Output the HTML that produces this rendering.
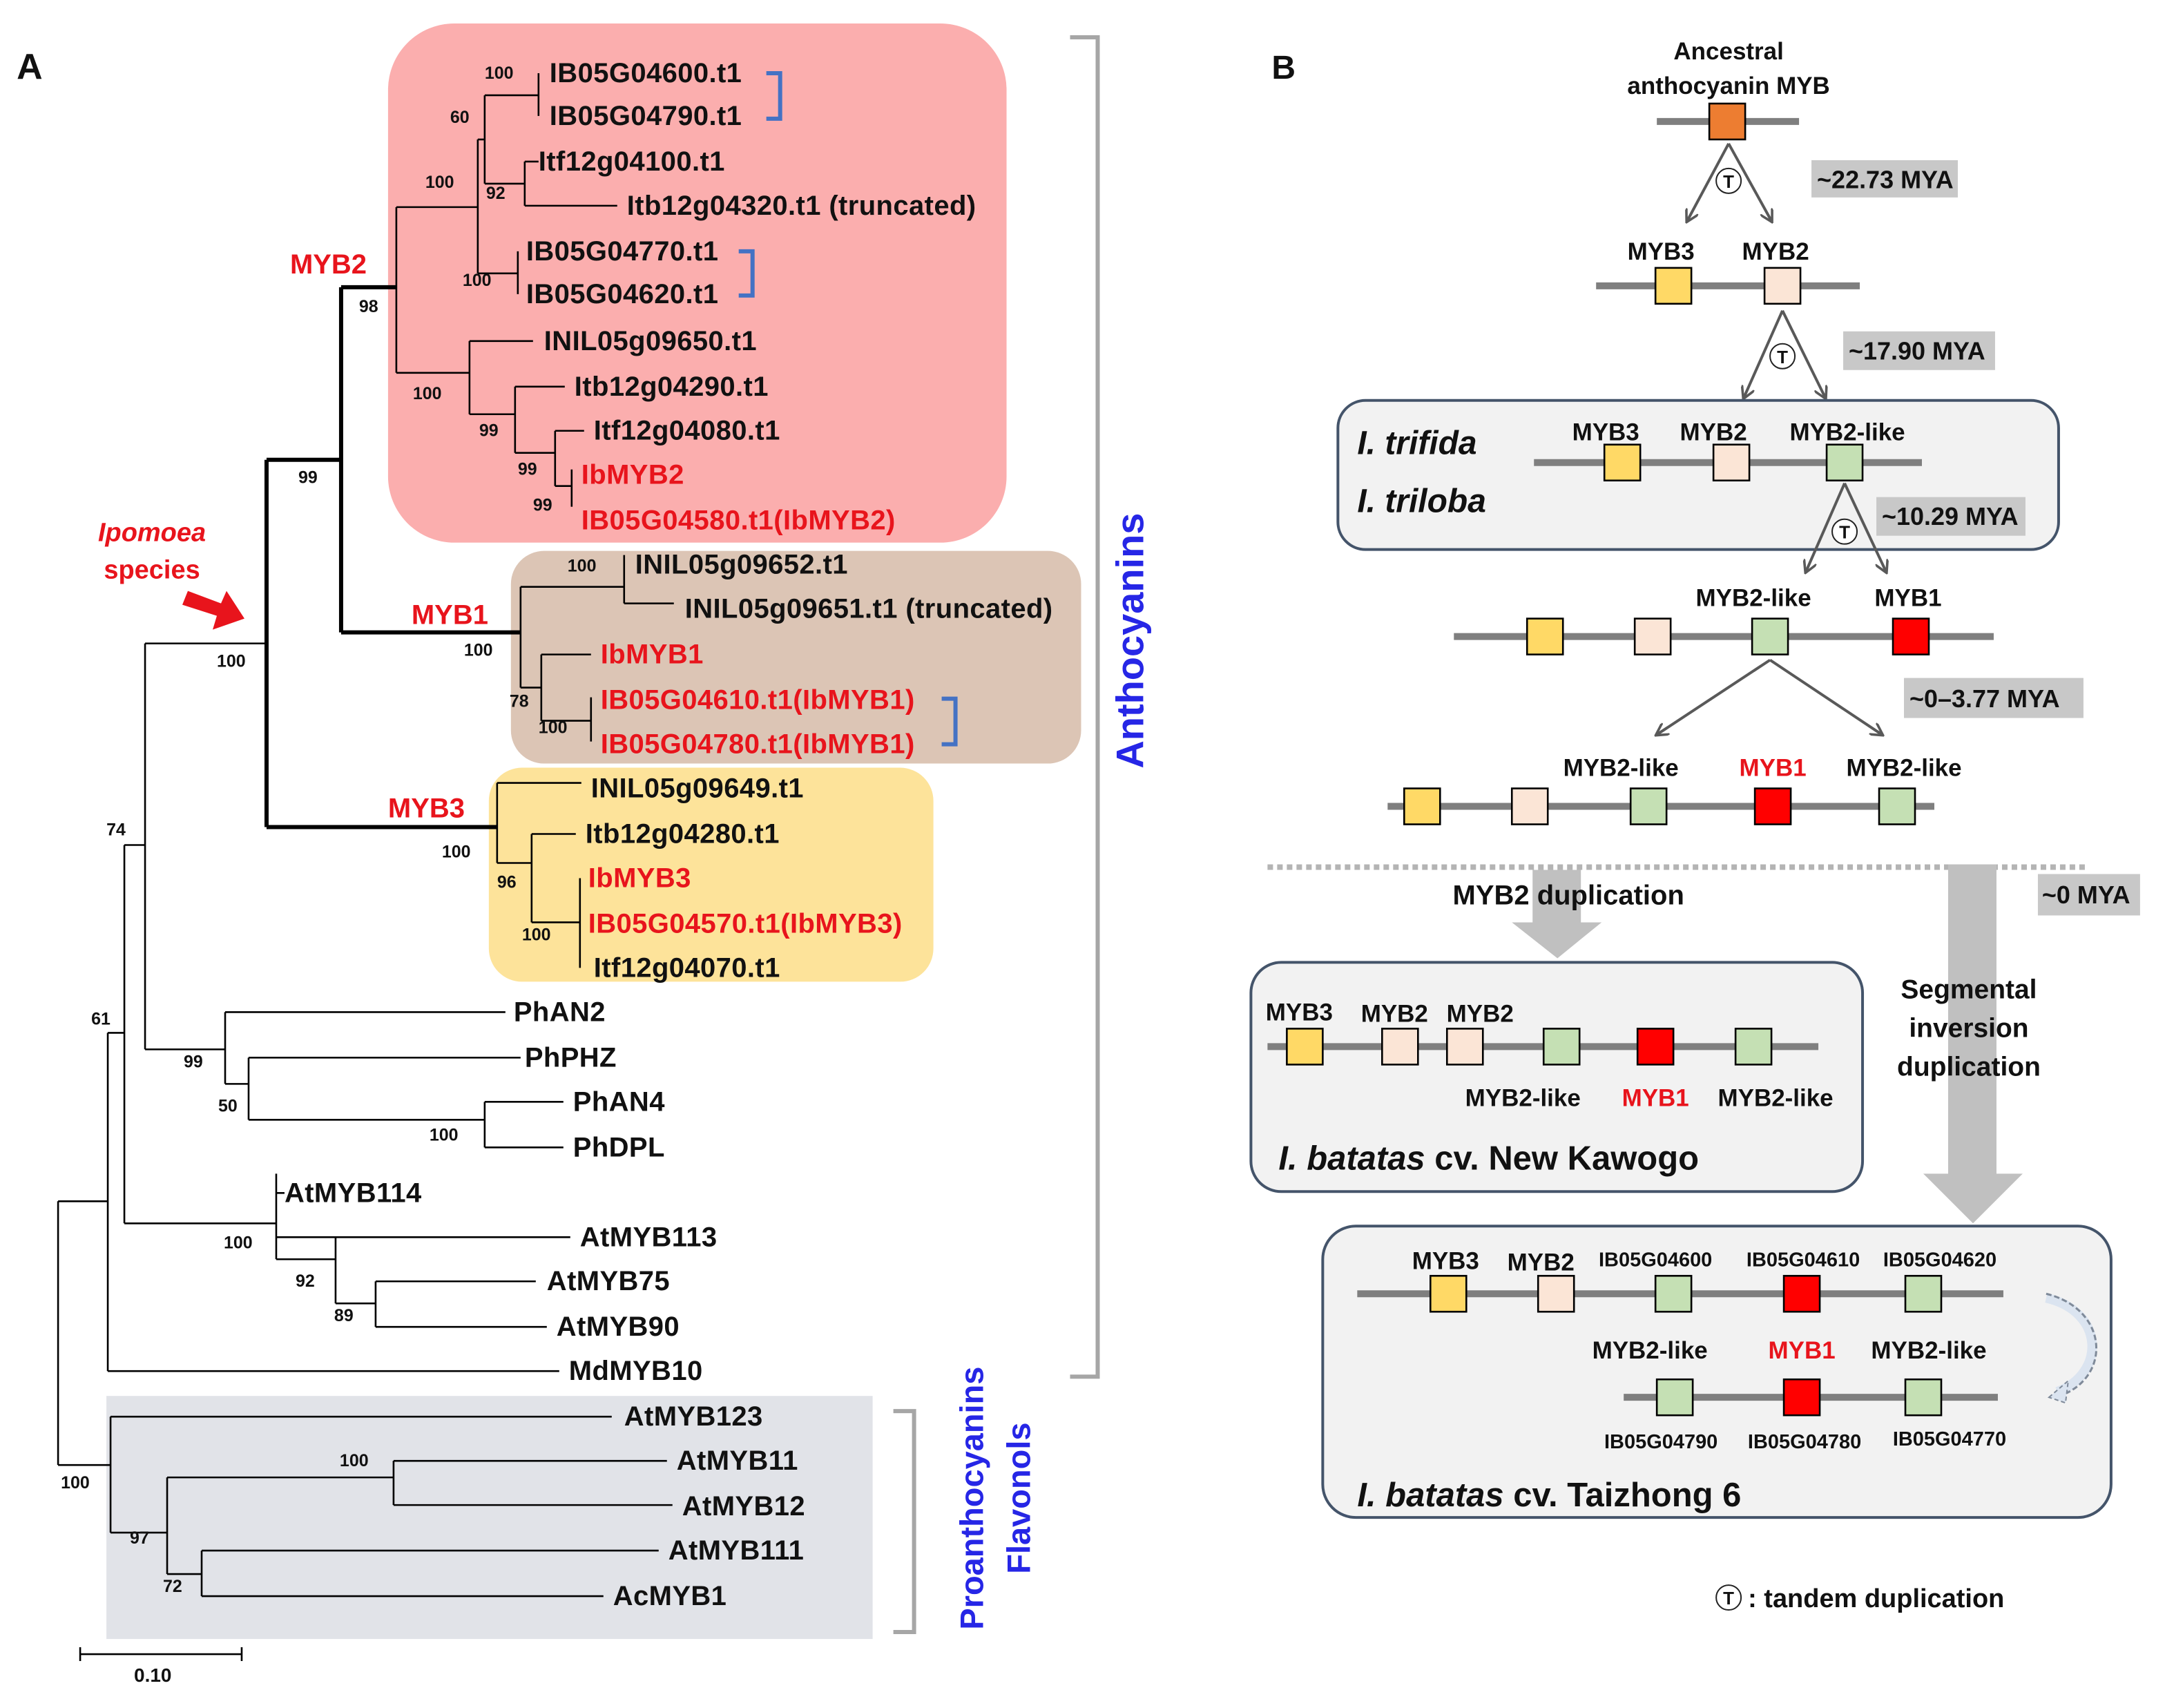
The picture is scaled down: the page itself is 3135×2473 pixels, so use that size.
<!DOCTYPE html>
<html><head><meta charset="utf-8"><style>
html,body{margin:0;padding:0;background:#fff;}
svg{display:block;}
text{font-family:"Liberation Sans",sans-serif;font-weight:bold;}
.lf{font-size:20px;fill:#111;dominant-baseline:central;letter-spacing:0.2px;}
.r{fill:#e8141c;}
.bs{font-size:12.5px;fill:#111;font-weight:bold;}
.tr path,.tr line{stroke:#000;stroke-width:1.3;fill:none;}
.tk{stroke:#000;stroke-width:3;fill:none;}
.gl{font-size:17.5px;fill:#111;text-anchor:middle;}
.sm{font-size:14.5px;fill:#111;text-anchor:middle;}
.chr{stroke:#7f7f7f;stroke-width:5;}
.bx{stroke:#000;stroke-width:1.3;}
.ar{stroke:#595959;stroke-width:2;fill:none;}
.mya{font-size:18px;fill:#111;dominant-baseline:central;}
</style></head><body>
<svg width="3135" height="2473" viewBox="0 0 1568 1237" xmlns="http://www.w3.org/2000/svg">
<defs>
<marker id="ah" markerWidth="10" markerHeight="10" refX="8" refY="5" orient="auto" markerUnits="userSpaceOnUse"><path d="M0,0 L9,5 L0,10" fill="none" stroke="#595959" stroke-width="1.8"/></marker>
</defs>
<text x="12" y="57" font-size="26" fill="#111">A</text>
<rect x="281" y="17" width="448" height="376" rx="48" fill="#fbaeae"/>
<rect x="370" y="399" width="413" height="154" rx="24" fill="#dcc5b5"/>
<rect x="354" y="556" width="322" height="155" rx="24" fill="#fde39a"/>
<rect x="77" y="1011" width="555" height="176" fill="#e1e3e8"/>

<g class="tr">
<path d="M390,53V84 M351,69H390"/>
<path d="M380,117V149 M380,117H390 M380,149H447 M351,133H380"/>
<path d="M351,69V133 M346,101H351"/>
<path d="M375,182V213 M346,198H375"/>
<path d="M346,101V198 M287,150H346"/>
<path d="M340,247V300 M340,247H386 M340,300H373"/>
<path d="M373,280V328 M373,280H409 M373,328H402"/>
<path d="M402,312V352 M402,312H423 M402,352H414"/>
<path d="M414,340V367"/>
<path d="M287,150V270 M287,270H340"/>
<path d="M452,402V437 M452,437H488 M377,425H452"/>
<path d="M392,474V522 M392,474H428 M392,522H428"/>
<path d="M428,505V537"/>
<path d="M377,425V498 M377,498H392"/>
<path d="M360,567V625 M360,567H421"/>
<path d="M385,604V668 M385,604H417 M385,668H420 M420,636V701 M360,625H385"/>
<path d="M163,733V785 M163,733H366 M163,785H180"/>
<path d="M180,766V811 M180,766H377 M180,811H351"/>
<path d="M351,798V831 M351,798H408 M351,831H408"/>
<path d="M105,466V760 M105,760H163 M90,612H105"/>
<path d="M200,850V912 M200,864H206 M200,896H413 M200,912H243"/>
<path d="M243,896V944 M243,944H272 M272,928V961 M272,928H388 M272,961H396"/>
<path d="M90,612V886 M90,886H200 M78,748H90"/>
<path d="M78,748V993 M78,993H405 M42,870H78"/>
<path d="M42,870V1061 M42,1061H80"/>
<path d="M80,1026V1110 M80,1026H443 M80,1110H121"/>
<path d="M121,1070V1140 M121,1070H285 M285,1058V1090 M285,1058H483 M285,1090H487"/>
<path d="M121,1140H146 M146,1123V1156 M146,1123H477 M146,1156H437"/>
<path d="M105,466H193"/>
<path d="M58,1193V1203 M175,1193V1203 M58,1198H175"/>
</g>
<path class="tk" d="M193,333V599 M193,333H247 M247,208V458 M247,208H287 M247,458H377 M193,599H360"/>

<g class="lf">
<text x="398" y="53">IB05G04600.t1</text>
<text x="398" y="84">IB05G04790.t1</text>
<text x="390" y="117">Itf12g04100.t1</text>
<text x="454" y="149">Itb12g04320.t1 (truncated)</text>
<text x="381" y="182">IB05G04770.t1</text>
<text x="381" y="213">IB05G04620.t1</text>
<text x="394" y="247">INIL05g09650.t1</text>
<text x="416" y="280">Itb12g04290.t1</text>
<text x="430" y="312">Itf12g04080.t1</text>
<text x="421" y="344" class="lf r">IbMYB2</text>
<text x="421" y="377" class="lf r">IB05G04580.t1(IbMYB2)</text>
<text x="460" y="409">INIL05g09652.t1</text>
<text x="496" y="441">INIL05g09651.t1 (truncated)</text>
<text x="435" y="474" class="lf r">IbMYB1</text>
<text x="435" y="507" class="lf r">IB05G04610.t1(IbMYB1)</text>
<text x="435" y="539" class="lf r">IB05G04780.t1(IbMYB1)</text>
<text x="428" y="571">INIL05g09649.t1</text>
<text x="424" y="604">Itb12g04280.t1</text>
<text x="426" y="636" class="lf r">IbMYB3</text>
<text x="426" y="669" class="lf r">IB05G04570.t1(IbMYB3)</text>
<text x="430" y="701">Itf12g04070.t1</text>
<text x="372" y="733">PhAN2</text>
<text x="380" y="766">PhPHZ</text>
<text x="415" y="798">PhAN4</text>
<text x="415" y="831">PhDPL</text>
<text x="206" y="864">AtMYB114</text>
<text x="420" y="896">AtMYB113</text>
<text x="396" y="928">AtMYB75</text>
<text x="403" y="961">AtMYB90</text>
<text x="412" y="993">MdMYB10</text>
<text x="452" y="1026">AtMYB123</text>
<text x="490" y="1058">AtMYB11</text>
<text x="494" y="1091">AtMYB12</text>
<text x="484" y="1123">AtMYB111</text>
<text x="444" y="1156">AcMYB1</text>
</g>
<g class="bs">
<text x="351" y="57">100</text><text x="326" y="89">60</text><text x="308" y="136">100</text><text x="352" y="144">92</text>
<text x="335" y="207">100</text><text x="260" y="226">98</text><text x="299" y="289">100</text><text x="347" y="316">99</text>
<text x="375" y="344">99</text><text x="386" y="370">99</text><text x="216" y="350">99</text>
<text x="411" y="414">100</text><text x="336" y="475">100</text><text x="369" y="512">78</text><text x="390" y="531">100</text>
<text x="157" y="483">100</text><text x="320" y="621">100</text><text x="360" y="643">96</text><text x="378" y="681">100</text>
<text x="77" y="605">74</text><text x="66" y="742">61</text><text x="133" y="773">99</text><text x="158" y="805">50</text>
<text x="311" y="826">100</text><text x="162" y="904">100</text><text x="214" y="932">92</text><text x="242" y="957">89</text>
<text x="44" y="1078">100</text><text x="246" y="1062">100</text><text x="94" y="1118">97</text><text x="118" y="1153">72</text>
</g>
<text x="97" y="1218" font-size="14" fill="#111">0.10</text>
<text x="210" y="198" font-size="20" class="r">MYB2</text>
<text x="298" y="452" font-size="20" class="r">MYB1</text>
<text x="281" y="592" font-size="20" class="r">MYB3</text>
<text x="110" y="392" font-size="19" text-anchor="middle" font-style="italic" class="r">Ipomoea</text>
<text x="110" y="419" font-size="19" text-anchor="middle" class="r">species</text>
<path d="M136,428 L160,437 L164,428 L177,448 L154,456 L157,446 L132,438 Z" fill="#e8141c"/>
<path d="M555,53H565V86H555 M535,182H545V214H535 M682,506H692V539H682" stroke="#4472c4" stroke-width="3" fill="none"/>
<path d="M775,27H795V997H775 M647,1022H662V1182H647" stroke="#a6a6a6" stroke-width="3" fill="none"/>
<text transform="translate(828,464) rotate(-90)" font-size="28" fill="#2626e6" text-anchor="middle">Anthocyanins</text>
<text transform="translate(712,1085) rotate(-90)" font-size="23.5" fill="#2626e6" text-anchor="middle">Proanthocyanins</text>
<text transform="translate(746,1085) rotate(-90)" font-size="23.5" fill="#2626e6" text-anchor="middle">Flavonols</text>

<text x="921" y="57" font-size="24" fill="#111">B</text>
<text x="1252" y="43" class="gl">Ancestral</text>
<text x="1252" y="68" class="gl">anthocyanin MYB</text>
<line class="chr" x1="1200" y1="88" x2="1303" y2="88"/>
<rect class="bx" x="1238" y="75" width="26" height="26" fill="#ed7d31"/>
<line class="ar" x1="1252" y1="104" x2="1222" y2="160" marker-end="url(#ah)"/>
<line class="ar" x1="1252" y1="104" x2="1283" y2="160" marker-end="url(#ah)"/>
<circle cx="1252" cy="131" r="9" fill="#fff" stroke="#222" stroke-width="1"/><text x="1252" y="136" font-size="13" text-anchor="middle" font-weight="normal" fill="#111">T</text>
<rect x="1312" y="116" width="106" height="27" fill="#c8c8c8"/><text x="1316" y="130" class="mya">~22.73 MYA</text>

<text x="1203" y="188" class="gl">MYB3</text><text x="1286" y="188" class="gl">MYB2</text>
<line class="chr" x1="1156" y1="207" x2="1347" y2="207"/>
<rect class="bx" x="1199" y="194" width="26" height="26" fill="#ffd966"/>
<rect class="bx" x="1278" y="194" width="26" height="26" fill="#fbe5d6"/>
<line class="ar" x1="1291" y1="225" x2="1263" y2="288" marker-end="url(#ah)"/>
<line class="ar" x1="1291" y1="225" x2="1322" y2="288" marker-end="url(#ah)"/>
<circle cx="1291" cy="258" r="9" fill="#fff" stroke="#222" stroke-width="1"/><text x="1291" y="263" font-size="13" text-anchor="middle" font-weight="normal" fill="#111">T</text>
<rect x="1335" y="240" width="110" height="28" fill="#c8c8c8"/><text x="1339" y="254" class="mya">~17.90 MYA</text>

<rect x="969" y="290" width="522" height="108" rx="20" fill="#f2f2f2" stroke="#44546a" stroke-width="2"/>
<text x="983" y="329" font-size="24" font-style="italic" fill="#111">I. trifida</text>
<text x="983" y="371" font-size="24" font-style="italic" fill="#111">I. triloba</text>
<text x="1163" y="319" class="gl">MYB3</text><text x="1241" y="319" class="gl">MYB2</text><text x="1338" y="319" class="gl">MYB2-like</text>
<line class="chr" x1="1111" y1="335" x2="1392" y2="335"/>
<rect class="bx" x="1162" y="322" width="26" height="26" fill="#ffd966"/>
<rect class="bx" x="1241" y="322" width="26" height="26" fill="#fbe5d6"/>
<rect class="bx" x="1323" y="322" width="26" height="26" fill="#c5e0b4"/>
<line class="ar" x1="1336" y1="350" x2="1308" y2="414" marker-end="url(#ah)"/>
<line class="ar" x1="1336" y1="350" x2="1366" y2="414" marker-end="url(#ah)"/>
<circle cx="1336" cy="385" r="9" fill="#fff" stroke="#222" stroke-width="1"/><text x="1336" y="390" font-size="13" text-anchor="middle" font-weight="normal" fill="#111">T</text>
<rect x="1359" y="360" width="108" height="28" fill="#c8c8c8"/><text x="1363" y="374" class="mya">~10.29 MYA</text>

<text x="1270" y="439" class="gl">MYB2-like</text><text x="1382" y="439" class="gl">MYB1</text>
<line class="chr" x1="1053" y1="461" x2="1444" y2="461"/>
<rect class="bx" x="1106" y="448" width="26" height="26" fill="#ffd966"/>
<rect class="bx" x="1184" y="448" width="26" height="26" fill="#fbe5d6"/>
<rect class="bx" x="1269" y="448" width="26" height="26" fill="#c5e0b4"/>
<rect class="bx" x="1371" y="448" width="26" height="26" fill="#ff0000"/>
<line class="ar" x1="1282" y1="478" x2="1200" y2="532" marker-end="url(#ah)"/>
<line class="ar" x1="1282" y1="478" x2="1363" y2="532" marker-end="url(#ah)"/>
<rect x="1379" y="491" width="130" height="29" fill="#c8c8c8"/><text x="1383" y="506" class="mya">~0–3.77 MYA</text>

<text x="1174" y="562" class="gl">MYB2-like</text><text x="1284" y="562" class="gl" style="fill:#e8141c">MYB1</text><text x="1379" y="562" class="gl">MYB2-like</text>
<line class="chr" x1="1005" y1="584" x2="1401" y2="584"/>
<rect class="bx" x="1017" y="571" width="26" height="26" fill="#ffd966"/>
<rect class="bx" x="1095" y="571" width="26" height="26" fill="#fbe5d6"/>
<rect class="bx" x="1181" y="571" width="26" height="26" fill="#c5e0b4"/>
<rect class="bx" x="1271" y="571" width="26" height="26" fill="#ff0000"/>
<rect class="bx" x="1361" y="571" width="26" height="26" fill="#c5e0b4"/>

<line x1="918" y1="628" x2="1510" y2="628" stroke="#b4b4b4" stroke-width="4" stroke-dasharray="4,3"/>
<path d="M1110,630H1145V668H1160L1128,694L1095,668H1110Z" fill="#c0c0c0"/>
<path d="M1411,626H1446V850H1465L1429,886L1393,850H1411Z" fill="#c0c0c0"/>
<text x="1136" y="655" class="gl" style="font-size:20px">MYB2 duplication</text>
<rect x="1476" y="633" width="74" height="30" fill="#c8c8c8"/><text x="1479" y="648" class="mya">~0 MYA</text>
<text x="1426" y="723" class="gl" style="font-size:19.5px">Segmental</text>
<text x="1426" y="751" class="gl" style="font-size:19.5px">inversion</text>
<text x="1426" y="779" class="gl" style="font-size:19.5px">duplication</text>

<rect x="906" y="697" width="443" height="166" rx="22" fill="#f2f2f2" stroke="#44546a" stroke-width="2"/>
<text x="941" y="739" class="gl">MYB3</text><text x="1010" y="740" class="gl">MYB2</text><text x="1072" y="740" class="gl">MYB2</text>
<line class="chr" x1="918" y1="758" x2="1317" y2="758"/>
<rect class="bx" x="932" y="745" width="26" height="26" fill="#ffd966"/>
<rect class="bx" x="1001" y="745" width="26" height="26" fill="#fbe5d6"/>
<rect class="bx" x="1048" y="745" width="26" height="26" fill="#fbe5d6"/>
<rect class="bx" x="1118" y="745" width="26" height="26" fill="#c5e0b4"/>
<rect class="bx" x="1186" y="745" width="26" height="26" fill="#ff0000"/>
<rect class="bx" x="1257" y="745" width="26" height="26" fill="#c5e0b4"/>
<text x="1103" y="801" class="gl">MYB2-like</text><text x="1199" y="801" class="gl" style="fill:#e8141c">MYB1</text><text x="1286" y="801" class="gl">MYB2-like</text>
<text x="926" y="847" font-size="24.5" fill="#111"><tspan font-style="italic">I. batatas</tspan> cv. New Kawogo</text>

<rect x="958" y="888" width="571" height="211" rx="24" fill="#f2f2f2" stroke="#44546a" stroke-width="2"/>
<text x="1047" y="919" class="gl">MYB3</text><text x="1116" y="920" class="gl">MYB2</text>
<text x="1199" y="917" class="sm">IB05G04600</text><text x="1306" y="917" class="sm">IB05G04610</text><text x="1405" y="917" class="sm">IB05G04620</text>
<line class="chr" x1="983" y1="937" x2="1451" y2="937"/>
<rect class="bx" x="1036" y="924" width="26" height="26" fill="#ffd966"/>
<rect class="bx" x="1114" y="924" width="26" height="26" fill="#fbe5d6"/>
<rect class="bx" x="1199" y="924" width="26" height="26" fill="#c5e0b4"/>
<rect class="bx" x="1292" y="924" width="26" height="26" fill="#ff0000"/>
<rect class="bx" x="1380" y="924" width="26" height="26" fill="#c5e0b4"/>
<text x="1195" y="984" class="gl">MYB2-like</text><text x="1305" y="984" class="gl" style="fill:#e8141c">MYB1</text><text x="1397" y="984" class="gl">MYB2-like</text>
<line class="chr" x1="1176" y1="1012" x2="1447" y2="1012"/>
<rect class="bx" x="1200" y="999" width="26" height="26" fill="#c5e0b4"/>
<rect class="bx" x="1292" y="999" width="26" height="26" fill="#ff0000"/>
<rect class="bx" x="1380" y="999" width="26" height="26" fill="#c5e0b4"/>
<text x="1203" y="1049" class="sm">IB05G04790</text><text x="1307" y="1049" class="sm">IB05G04780</text><text x="1412" y="1047" class="sm">IB05G04770</text>
<path d="M1482,940 C1525,950 1525,995 1490,1008" fill="none" stroke="#dbe4f0" stroke-width="7"/>
<path d="M1482,937 C1527,948 1530,997 1492,1011" fill="none" stroke="#7f8a99" stroke-width="1.5" stroke-dasharray="4,2"/>
<path d="M1484,1012 L1498,1000 L1496,1016 Z" fill="#dbe4f0" stroke="#7f8a99" stroke-width="1" stroke-dasharray="3,2"/>
<text x="983" y="1091" font-size="24.5" fill="#111"><tspan font-style="italic">I. batatas</tspan>  cv. Taizhong 6</text>

<circle cx="1252" cy="1157" r="9" fill="#fff" stroke="#222" stroke-width="1"/><text x="1252" y="1162" font-size="13" text-anchor="middle" font-weight="normal" fill="#111">T</text>
<text x="1266" y="1164" font-size="19" fill="#111">: tandem duplication</text>
</svg>
</body></html>
